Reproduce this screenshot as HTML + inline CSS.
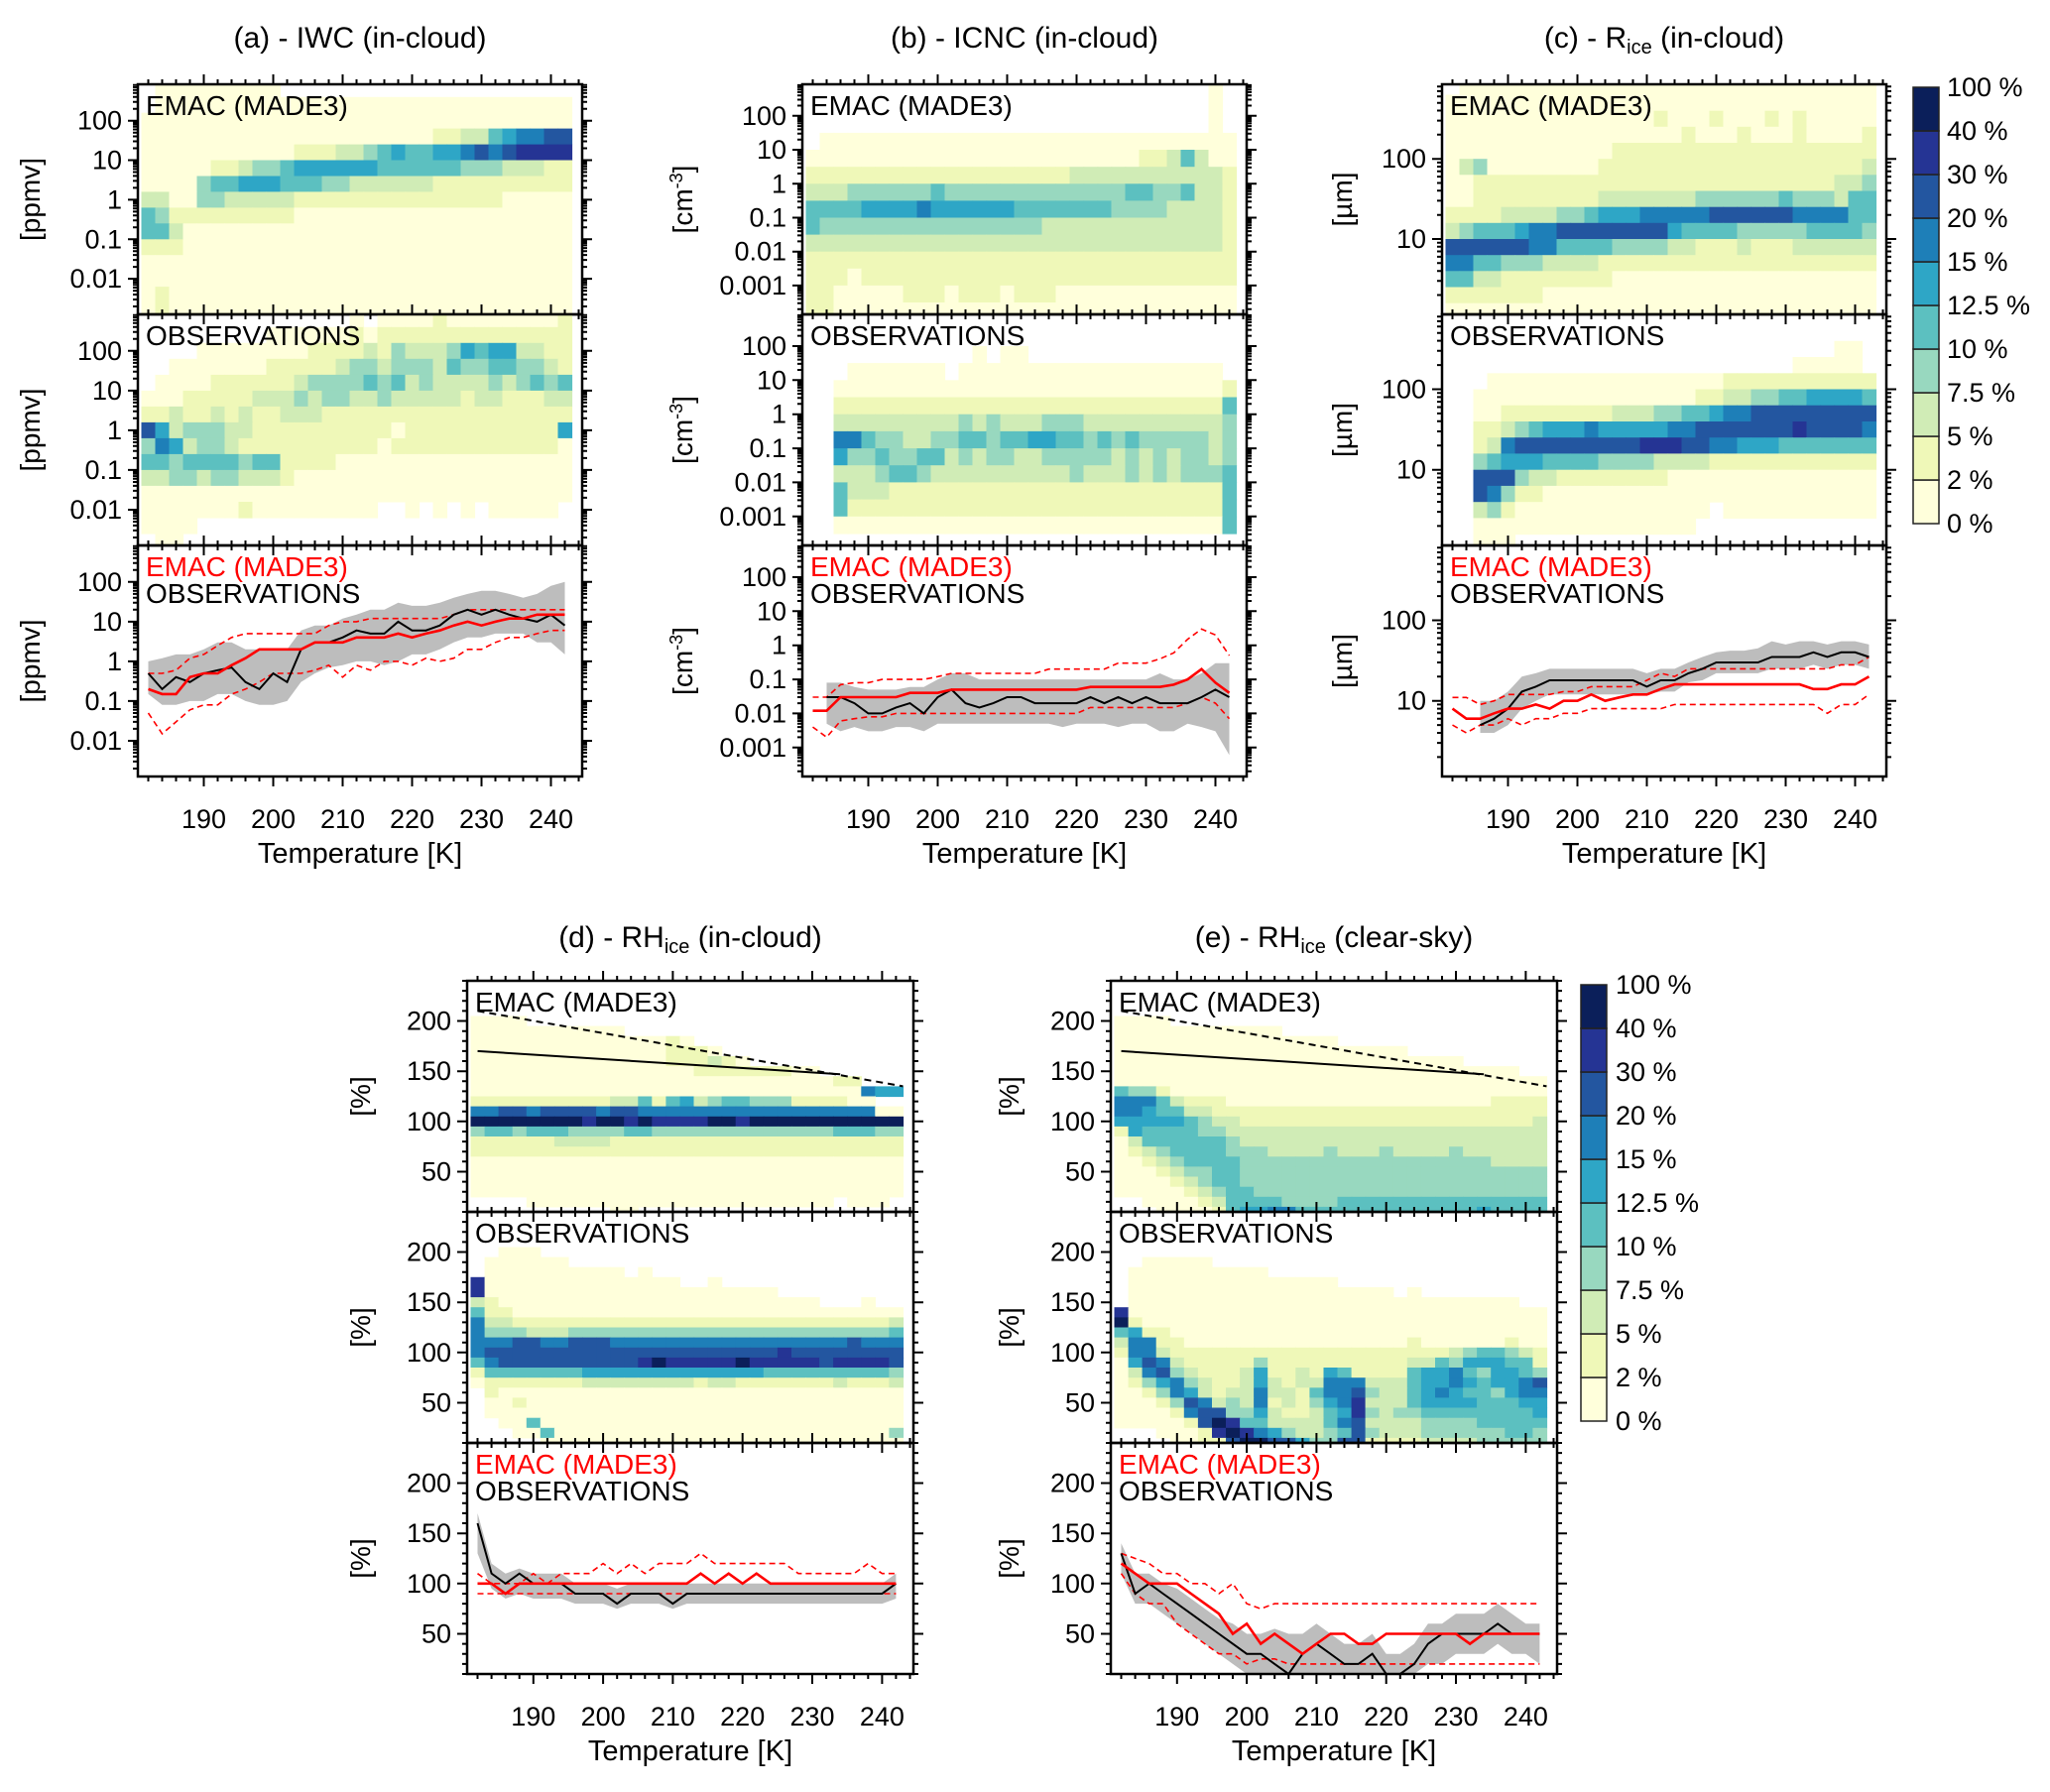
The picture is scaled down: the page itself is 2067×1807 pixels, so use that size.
<!DOCTYPE html>
<html><head><meta charset="utf-8">
<style>
html,body{margin:0;padding:0;background:#fff;}
svg{display:block;font-family:"Liberation Sans",sans-serif;}
</style></head>
<body>
<svg id="fig" width="2067" height="1807" viewBox="0 0 2067 1807" xmlns="http://www.w3.org/2000/svg">
<defs id="defs"></defs>
</svg>
<script>
// ---------- data: temperature bins ----------
const tempCenters = [182,184,186,188,190,192,194,196,198,200,202,204,206,208,210,212,214,216,218,220,222,224,226,228,230,232,234,236,238,240,242];
const xTickValues = [190,200,210,220,230,240];
const xTickLabels = ['190','200','210','220','230','240'];
const cbarLabels = ['0 %','2 %','5 %','7.5 %','10 %','12.5 %','15 %','20 %','30 %','40 %','100 %'];
const levelColors = {'1':'#ffffdb','2':'#eff8b8','3':'#d0ecb6','4':'#98d8bf','5':'#5cc0c0','6':'#2ea6c6','7':'#1e7fb8','8':'#2356a0','9':'#253494','a':'#0b1f5a'};

// ---------- (a) IWC heatmaps (rows top->bottom, log10 from 3.0, step 0.4) ----------
const aEmacRows = [
"0111111111000000000000000000000",
"0111111111111111111111111111111",
"1111111111111111111111111111111",
"1111111111111111111112233567788",
"1111111111122233456556678789999",
"1111122344566666655555544433322",
"1111455666555443333332222222222",
"3311443333322222222222222211111",
"5422222222211111111111111111111",
"5531111111111111111111111111111",
"2221111111111111111111111111111",
"1111111111111111111111111111111",
"1111111111111111111111111111111",
"1211111111111111111111111111111",
"1211111111111111111111111111111"];
const aObsRows = [
"0000000000000001011112111111112",
"0000000001111112122222222222222",
"0000111111112222324333465663322",
"0011111112222234434443544554432",
"0111122222234444545343333434545",
"1112222233343443343333323322233",
"2232232322333222222222222222222",
"8634443322222222221222222222226",
"4763443222222222212222222222221",
"5545555455222211111111111111111",
"3344344333211111111111111111111",
"1111111111111111111111111111111",
"1111111211111111100101010111110",
"1111000000000000000000000000000",
"0110000000000000000000000000000"];
// ---------- (b) ICNC heatmaps (log10 from 3.0, step 0.5) ----------
const bEmacRows = [
"0000000000000000000000000000010",
"0000000000000000000000000000010",
"0000000000000000000000000000010",
"0111111111111111111111111111111",
"1111111111111111111111112235311",
"2222222222222222222333333333332",
"3334444445444444444444455445332",
"5555666676666665555555444433332",
"5444444444444444433333333333332",
"3333333333333333333333333333332",
"2222222222222222222222222222222",
"2221222222222222222222222222222",
"2211111222122212221111111111111",
"2211111111111111111111111111111"];
const bObsRows = [
"0000000000000000000000000000000",
"0000000000000000000000000000000",
"0000000000001011000000000000000",
"0001111111011111111111111111110",
"0011111111111111111111111111112",
"0022222222222222222222222222225",
"0033333333343433344433333333334",
"0077544334455455665545454444434",
"0064454455343443344444343434434",
"0033345543333333333433343434445",
"0053332222222222222222222222225",
"0052222222222222222222222222225",
"0011111111111111111111111111115",
"0000000000000000000000000000000"];
// ---------- (c) Rice heatmaps (log10 from 3.0, step 0.2) ----------
const cEmacRows = [
"0111111111111111111111111111111",
"1111111111111111111111111111111",
"1111111111111112111211121211111",
"1111111111111111121112111211112",
"1111111111112222222222222222222",
"1341111111122222222222222222223",
"1122222222222222222222222222334",
"1122222222233333334444445444355",
"2222333344566677777888888777755",
"3455567788888888655554444455554",
"8888887755554444332223222333333",
"7755444333322222222222222222222",
"5533222222221111111111111111111",
"2222222111111111111111111111111",
"1111111111111111111111111111111"];
const cObsRows = [
"0000000000000000000000000000000",
"0000000000000000000000000000000",
"0000000000000000000000000000110",
"0000000000000000000000000111110",
"0001111111111111111122222222222",
"0011111111111111112233445566665",
"0011222222223334455677888888888",
"0022345666766666778888888988887",
"0023788888888899988776665555555",
"0045666555544443333222222222222",
"0088843322222222111111111111111",
"0087422111111111111111111111111",
"0034211111111111111011111111111",
"0011111111111111110000000000000",
"0011100000000000000000000000000"];
// ---------- (d) RHice in-cloud heatmaps (% from 245, step 10) ----------
const dEmacRows = [
"0000000000000000000000000000000",
"0000000000000000000000000000000",
"0000000000000000000000000000000",
"0000000000000000000000000000000",
"1111000000000000000000000000000",
"1111111111100000000000000000000",
"1111111111111121000000000000000",
"1111111111111122210000000000000",
"1111111111111122232100000000000",
"1111111111111111222222211000000",
"1111111111111111111111111122000",
"1111111111111111111111111111766",
"2222222222335256345544422221100",
"7788788887887777777777777777711",
"aaaaaaaa9aa9a9999aa9aaaaaaaaaaa",
"4554555444455444444444444455544",
"2222223333222222222222222222222",
"2222222222222222222222222222222",
"1111111111111111111111111111111",
"1111111111111111111111111111111",
"1111111111111111111111111111111",
"1111111111111111111111111111111",
"0000111111111111111111111101110",
"0000000000110000000000000000000"];
const dObsRows = [
"0000000000000000000000000000000",
"0000000000000000000000000000000",
"0000000000000000000000000000000",
"0000000000000000000000000000000",
"0011100000000000000000000000000",
"0111111000000000000000000000000",
"0111111111101000000000000000000",
"9111111111111110010000000000000",
"9111111111111111111111000000000",
"3211111111111111111111111000100",
"5221111111111111111111111111111",
"7332222222222222222222222222223",
"7444333444444444444444444444445",
"7778877888777777777777777778777",
"7888888888888888888888988888888",
"5788888888889a99999a99999899998",
"2555555566666666666665555555554",
"1222222233333333233222222232223",
"0211111111111111111111111111111",
"0112111111111111111111111111111",
"0111111111111111111111111111111",
"0011511111111111111111111111111",
"0001151111111111111111111111114",
"0000011111111111111111111111111"];
// ---------- (e) RHice clear-sky heatmaps ----------
const eEmacRows = [
"0000000000000000000000000000000",
"0000000000000000000000000000000",
"0000000000000000000000000000000",
"0000000000000000000000000000000",
"1111000000000000000000000000000",
"1111111111110000000000000000000",
"1111111111111111000000000000000",
"1111111111111111111110000000000",
"1111111111111111111111111000000",
"1111111111111111111111111111100",
"1111111111111111111111111111111",
"5442111111111111111111111111111",
"7775322211111111111111111112222",
"7765533222222222222222222222222",
"6666654332222222222222222222223",
"2655554433333333333333333333333",
"1355555543333333333333333333333",
"1234555544433334333433334333333",
"1123455554444444444444444443333",
"1112344554444444444444444444444",
"1111234554444444444444444444444",
"1111123455444444444444444444444",
"0011112355554444555555555555555",
"0001111256677555555555555565555"];
const eObsRows = [
"0000000000000000000000000000000",
"0000000000000000000000000000000",
"0000000000000000000000000000000",
"0000000000000000000000000000000",
"0000000000000000000000000000000",
"0011111000000000000000000000000",
"0111111111100000000000000000000",
"0111111111111111000000000000000",
"0111111111111111111101000000000",
"0111111111111111111111111111100",
"9111111111111111111111111111111",
"a211111111111111111111111111111",
"5622111111111111111111111111111",
"3772211111111111111112111111211",
"2773222222222222222222223455432",
"1687322222422222222223354666552",
"1378432223622326522225667546654",
"1246743223632337773335667656678",
"1124763233733257784335676554677",
"1112487343723246793335666655566",
"1111278844632235694344555555556",
"1111128a95533335783333444455555",
"00011129a9764334584333444444554",
"000011228aa88644882222333344444"];

// ---------- line panels (values per tempCenters) ----------
const aObsMed = [0.5,0.2,0.4,0.3,0.5,0.6,0.7,0.3,0.2,0.5,0.3,2,3,3,4,6,5,5,10,6,6,8,15,20,15,20,15,12,10,15,8];
const aObsLo  = [0.15,0.08,0.08,0.1,0.1,0.15,0.15,0.1,0.08,0.08,0.1,0.3,0.5,0.7,0.8,1,1,0.8,1,1.5,1.5,2,3,4,4,5,5,5,3,3,1.5];
const aObsHi  = [1,1.2,1.5,1.5,2,3,3,2,2,2,2,6,8,8,12,15,20,20,30,25,25,30,40,50,60,60,50,40,50,80,100];
const aModMed = [0.2,0.15,0.15,0.4,0.5,0.5,0.8,1.2,2,2,2,2,3,3,3,4,4,4,5,4,5,6,8,10,8,10,12,12,15,15,15];
const aModLo  = [0.05,0.015,0.03,0.06,0.08,0.08,0.15,0.2,0.3,0.5,0.5,0.5,0.6,0.8,0.4,0.8,0.6,1,1,0.8,1.2,1,1.2,2,2,3,4,4,5,6,6];
const aModHi  = [0.5,0.5,0.6,1.2,1.5,2.5,4,5,5,5,5,5,5,8,10,10,12,12,12,12,12,12,15,20,20,20,20,20,20,20,20];

const bObsMed = [null,0.03,0.03,0.02,0.01,0.01,0.015,0.02,0.01,0.03,0.05,0.02,0.015,0.02,0.03,0.03,0.02,0.02,0.02,0.02,0.03,0.02,0.03,0.02,0.03,0.02,0.02,0.02,0.03,0.05,0.03];
const bObsLo  = [null,0.005,0.003,0.004,0.003,0.003,0.004,0.004,0.003,0.005,0.005,0.005,0.005,0.005,0.005,0.005,0.005,0.005,0.004,0.005,0.005,0.005,0.004,0.005,0.005,0.003,0.003,0.005,0.004,0.003,0.0006];
const bObsHi  = [null,0.08,0.08,0.06,0.05,0.05,0.05,0.06,0.06,0.1,0.15,0.15,0.1,0.1,0.1,0.1,0.1,0.1,0.1,0.1,0.1,0.1,0.1,0.1,0.1,0.15,0.1,0.1,0.15,0.3,0.3];
const bModMed = [0.012,0.012,0.03,0.03,0.03,0.03,0.03,0.04,0.04,0.04,0.05,0.05,0.05,0.05,0.05,0.05,0.05,0.05,0.05,0.05,0.06,0.06,0.06,0.06,0.06,0.06,0.07,0.1,0.2,0.08,0.04];
const bModLo  = [0.004,0.002,0.006,0.007,0.008,0.008,0.01,0.01,0.01,0.01,0.01,0.01,0.01,0.01,0.01,0.01,0.01,0.01,0.01,0.01,0.015,0.015,0.015,0.015,0.015,0.015,0.015,0.02,0.03,0.02,0.007];
const bModHi  = [0.03,0.03,0.07,0.08,0.08,0.1,0.1,0.1,0.1,0.12,0.15,0.15,0.15,0.15,0.15,0.15,0.15,0.2,0.2,0.2,0.2,0.2,0.3,0.3,0.3,0.4,0.6,1.5,3,2,0.5];

const cObsMed = [null,null,5,6,8,13,15,18,18,18,18,18,18,18,15,18,18,22,25,30,30,30,30,35,35,35,40,35,40,40,35];
const cObsLo  = [null,null,4,4,5,8,10,12,12,12,12,12,12,12,12,13,13,17,18,22,22,22,22,25,25,25,28,25,28,28,25];
const cObsHi  = [null,null,10,10,13,20,22,25,25,25,25,25,25,25,22,25,25,30,35,40,42,42,45,55,50,55,55,50,55,55,50];
const cModMed = [8,6,6,7,8,8,9,8,10,10,12,10,11,12,12,14,16,16,16,16,16,16,16,16,16,16,14,14,16,16,20];
const cModLo  = [5,4,5,5,6,5,6,6,7,7,8,8,8,8,8,8,9,9,9,9,9,9,9,9,9,9,9,7,9,9,12];
const cModHi  = [11,11,9,10,12,12,12,12,13,13,15,15,15,15,18,22,20,25,25,25,25,25,25,25,25,25,25,25,28,28,35];

const dObsMed = [160,110,100,110,100,100,100,90,90,90,80,90,90,90,80,90,90,90,90,90,90,90,90,90,90,90,90,90,90,90,100];
const dObsLo  = [130,95,85,90,85,85,85,80,80,80,75,80,80,80,75,80,80,80,80,80,80,80,80,80,80,80,80,80,80,80,85];
const dObsHi  = [170,120,110,115,110,110,110,100,100,100,95,100,100,100,100,100,100,100,100,100,100,100,100,100,100,100,100,100,100,100,110];
const dModMed = [100,100,90,100,100,100,100,100,100,100,100,100,100,100,100,100,110,100,110,100,110,100,100,100,100,100,100,100,100,100,100];
const dModLo  = [90,90,90,90,90,90,90,90,90,90,90,90,90,90,90,90,90,90,90,90,90,90,90,90,90,90,90,90,90,90,90];
const dModHi  = [110,100,100,100,110,100,110,110,110,120,110,120,110,120,120,120,130,120,120,120,120,120,120,110,110,110,110,110,120,110,110];

const eObsMed = [130,90,100,90,80,70,60,50,40,30,30,20,10,30,40,30,20,20,30,10,10,20,40,50,50,50,50,60,50,50,50];
const eObsLo  = [110,80,80,70,60,50,40,30,20,10,10,10,10,10,10,10,10,10,10,10,10,10,20,20,30,30,30,40,30,30,20];
const eObsHi  = [140,110,110,100,95,85,75,65,60,50,50,55,50,50,60,50,40,40,50,30,30,40,60,60,70,70,70,80,70,60,60];
const eModMed = [120,110,100,100,100,90,80,70,50,60,40,50,40,30,40,50,50,40,40,50,50,50,50,50,50,40,50,50,50,50,50];
const eModLo  = [110,90,80,80,60,50,40,30,30,20,25,25,20,20,20,20,20,20,20,20,20,20,20,20,20,20,20,20,20,20,20];
const eModHi  = [130,125,120,110,110,100,100,90,100,80,75,80,80,80,80,80,80,80,80,80,80,80,80,80,80,80,80,80,80,80,80];

// saturation / homogeneous freezing threshold lines in RH panels
const threshT = [182,234];
const threshSolid = [170,147];
const satT = [182,243];
const satDashed = [210,135];

// ---------- layout ----------
const NS='http://www.w3.org/2000/svg';
const svg=document.getElementById('fig');
const defs=document.getElementById('defs');
function mk(tag,attrs,parent){const e=document.createElementNS(NS,tag);for(const k in attrs)e.setAttribute(k,attrs[k]);(parent||svg).appendChild(e);return e;}

const panels=[
 {id:'a',x0:139,x1:587,tops:[85,317,550,783],log:true,ymin:-2.9,ymax:2.92,rowTop:3,rowStep:0.4,
  ticks:[0.01,0.1,1,10,100],tickLab:['0.01','0.1','1','10','100'],unit:'[ppmv]',unitX:31,
  emac:aEmacRows,obs:aObsRows,lines:[aObsMed,aObsLo,aObsHi,aModMed,aModLo,aModHi],top:true},
 {id:'b',x0:809,x1:1257,tops:[85,317,550,783],log:true,ymin:-3.85,ymax:2.93,rowTop:3,rowStep:0.5,
  ticks:[0.001,0.01,0.1,1,10,100],tickLab:['0.001','0.01','0.1','1','10','100'],unit:'cm',unitX:689,
  emac:bEmacRows,obs:bObsRows,lines:[bObsMed,bObsLo,bObsHi,bModMed,bModLo,bModHi],top:true},
 {id:'c',x0:1454,x1:1902,tops:[85,317,550,783],log:true,ymin:0.06,ymax:2.93,rowTop:3,rowStep:0.2,
  ticks:[10,100],tickLab:['10','100'],unit:'[µm]',unitX:1354,
  emac:cEmacRows,obs:cObsRows,lines:[cObsMed,cObsLo,cObsHi,cModMed,cModLo,cModHi],top:true},
 {id:'d',x0:471,x1:921,tops:[989,1222,1455,1688],log:false,ymin:10,ymax:240,rowTop:245,rowStep:10,
  ticks:[50,100,150,200],tickLab:['50','100','150','200'],unit:'[%]',unitX:364,
  emac:dEmacRows,obs:dObsRows,lines:[dObsMed,dObsLo,dObsHi,dModMed,dModLo,dModHi],top:false},
 {id:'e',x0:1120,x1:1570,tops:[989,1222,1455,1688],log:false,ymin:10,ymax:240,rowTop:245,rowStep:10,
  ticks:[50,100,150,200],tickLab:['50','100','150','200'],unit:'[%]',unitX:1018,
  emac:eEmacRows,obs:eObsRows,lines:[eObsMed,eObsLo,eObsHi,eModMed,eModLo,eModHi],top:false}
];
const titles={a:['(a) - IWC (in-cloud)',null],b:['(b) - ICNC (in-cloud)',null],c:['(c) - R','ice',' (in-cloud)'],d:['(d) - RH','ice',' (in-cloud)'],e:['(e) - RH','ice',' (clear-sky)']};

function X(p,T){return p.x0+(T-180.5)/64*(p.x1-p.x0);}
function Yu(p,k,u){const t=p.tops[k],b=p.tops[k+1];return b-(u-p.ymin)/(p.ymax-p.ymin)*(b-t);}
function Y(p,k,v){return Yu(p,k,p.log?Math.log10(v):v);}

panels.forEach(p=>{
  const g=mk('g',{});
  
  
  const tt=titles[p.id];
  const tyy=p.top?48:955;
  const tx=mk('text',{x:(p.x0+p.x1)/2,y:tyy,'font-size':30,'text-anchor':'middle',fill:'#000'},g);
  
  
  if(tt[1]===null){tx.textContent=tt[0];}
  else{
    const s1=mk('tspan',{},tx);s1.textContent=tt[0];
    const s2=mk('tspan',{'font-size':20,dy:6},tx);s2.textContent=tt[1];
    const s3=mk('tspan',{dy:-6},tx);s3.textContent=tt[2];
  }
  for(let k=0;k<3;k++){
    const top=p.tops[k],bot=p.tops[k+1];
    const sg=mk('g',{},g);
    
    
    const cid='clip-'+p.id+k;
    const cp=mk('clipPath',{id:cid},defs);
    mk('rect',{x:p.x0,y:top,width:p.x1-p.x0,height:bot-top},cp);
    const dg=mk('g',{'clip-path':'url(#'+cid+')'},sg);
    if(k<2){
      const rows=k===0?p.emac:p.obs;
      rows.forEach((row,r)=>{
        const uHi=p.rowTop-p.rowStep*r, uLo=p.rowTop-p.rowStep*(r+1);
        for(let i=0;i<row.length;i++){
          const c=row[i]; if(c==='0')continue;
          const T=tempCenters[i];
          const x1=X(p,T-1),x2=X(p,T+1),y1=Yu(p,k,uHi),y2=Yu(p,k,uLo);
          const cell=mk('rect',{x:x1.toFixed(1),y:y1.toFixed(1),width:(x2-x1+0.6).toFixed(1),height:(y2-y1+0.6).toFixed(1),fill:levelColors[c]},dg);
          
          
        }
      });
      if(!p.log && k===0){
        const sl=mk('line',{x1:X(p,threshT[0]),y1:Y(p,k,threshSolid[0]),x2:X(p,threshT[1]),y2:Y(p,k,threshSolid[1]),stroke:'#000','stroke-width':2},dg);
        
        
        const dl=mk('line',{x1:X(p,satT[0]),y1:Y(p,k,satDashed[0]),x2:X(p,satT[1]),y2:Y(p,k,satDashed[1]),stroke:'#000','stroke-width':2,'stroke-dasharray':'7,5'},dg);
        
        
      }
    } else {
      const [om,ol,oh,mm,mlo,mhi]=p.lines;
      const idx=tempCenters.map((t,i)=>i).filter(i=>om[i]!==null);
      let pts=idx.map(i=>X(p,tempCenters[i]).toFixed(1)+','+Y(p,k,oh[i]).toFixed(1));
      pts=pts.concat(idx.slice().reverse().map(i=>X(p,tempCenters[i]).toFixed(1)+','+Y(p,k,ol[i]).toFixed(1)));
      const band=mk('polygon',{points:pts.join(' '),fill:'#bdbdbd',stroke:'none'},dg);
      
      
      function line(arr,attrs){
        const ii=tempCenters.map((t,i)=>i).filter(i=>arr[i]!==null);
        return mk('polyline',Object.assign({points:ii.map(i=>X(p,tempCenters[i]).toFixed(1)+','+Y(p,k,arr[i]).toFixed(1)).join(' '),fill:'none'},attrs),dg);
      }
      const l1=line(mlo,{stroke:'#f00','stroke-width':1.6,'stroke-dasharray':'6,4'});
      
      
      const l2=line(mhi,{stroke:'#f00','stroke-width':1.6,'stroke-dasharray':'6,4'});
      
      
      const l3=line(om,{stroke:'#000','stroke-width':2});
      
      
      const l4=line(mm,{stroke:'#f00','stroke-width':2.6});
      
      
    }
    const fr=mk('rect',{x:p.x0,y:top,width:p.x1-p.x0,height:bot-top,fill:'none',stroke:'#000','stroke-width':2.5},sg);
    
    
    const tk=[];
    if(p.log){
      for(let d=Math.floor(p.ymin);d<=Math.ceil(p.ymax);d++){
        for(let m=1;m<=9;m++){const u=d+Math.log10(m);if(u>=p.ymin&&u<=p.ymax)tk.push([u,m===1]);}
      }
    } else {
      for(let v=10;v<=240;v+=10){tk.push([v,v%50===0]);}
    }
    let dpath='';
    tk.forEach(([u,maj])=>{const yy=Yu(p,k,u).toFixed(1);const L=maj?10:5;dpath+=`M${p.x0},${yy}h${-L}M${p.x1},${yy}h${L}`;});
    for(let T=182;T<=244;T+=2){const xx=X(p,T).toFixed(1);const L=(T%10===0)?10:5;dpath+=`M${xx},${top}v${-L}M${xx},${bot}v${L}`;}
    mk('path',{d:dpath,stroke:'#000','stroke-width':2,fill:'none'},sg);
    p.ticks.forEach((v,j)=>{
      const t=mk('text',{x:p.x0-16,y:(Y(p,k,v)+9).toFixed(1),'font-size':27,'text-anchor':'end'},sg);
      t.textContent=p.tickLab[j];
      
      
    });
    const cy=(top+bot)/2;
    const ut=mk('text',{x:p.unitX,y:cy,'font-size':28,'text-anchor':'middle',transform:`rotate(-90 ${p.unitX} ${cy})`,dy:9},sg);
    if(p.unit==='cm'){const a=mk('tspan',{},ut);a.textContent='[cm';const b=mk('tspan',{'font-size':18,dy:-10},ut);b.textContent='-3';const c2=mk('tspan',{dy:10},ut);c2.textContent=']';}
    else ut.textContent=p.unit;
    
    
    if(k===0){const t=mk('text',{x:p.x0+8,y:top+31,'font-size':28},sg);t.textContent='EMAC (MADE3)';}
    if(k===1){const t=mk('text',{x:p.x0+8,y:top+31,'font-size':28},sg);t.textContent='OBSERVATIONS';}
    if(k===2){
      const t=mk('text',{x:p.x0+8,y:top+31,'font-size':28,fill:'#f00'},sg);t.textContent='EMAC (MADE3)';
      
      
      const t2=mk('text',{x:p.x0+8,y:top+58,'font-size':28},sg);t2.textContent='OBSERVATIONS';
      
      
    }
  }
  const bot=p.tops[3];
  xTickValues.forEach((T,j)=>{
    const t=mk('text',{x:X(p,T).toFixed(1),y:bot+52,'font-size':27,'text-anchor':'middle'},g);
    t.textContent=xTickLabels[j];
    
    
  });
  const xt=mk('text',{x:(p.x0+p.x1)/2,y:bot+87,'font-size':29,'text-anchor':'middle'},g);
  xt.textContent='Temperature [K]';
  
  
});

const cbars=[{x:1929,y0:88,y1:528,lx:1963},{x:1594,y0:993,y1:1433,lx:1629}];
const cbColors=['1','2','3','4','5','6','7','8','9','a'];
cbars.forEach((cb,ci)=>{
  const g=mk('g',{});
  
  
  const h=(cb.y1-cb.y0)/10;
  cbColors.forEach((c,j)=>{
    const r=mk('rect',{x:cb.x,y:(cb.y1-(j+1)*h).toFixed(1),width:26,height:h.toFixed(1),fill:levelColors[c],stroke:'#222','stroke-width':1.5},g);
    
    
  });
  cbarLabels.forEach((l,j)=>{
    const t=mk('text',{x:cb.lx,y:(cb.y1-j*h+9).toFixed(1),'font-size':27},g);
    t.textContent=l;
    
    
  });
});
</script>
</body></html>
